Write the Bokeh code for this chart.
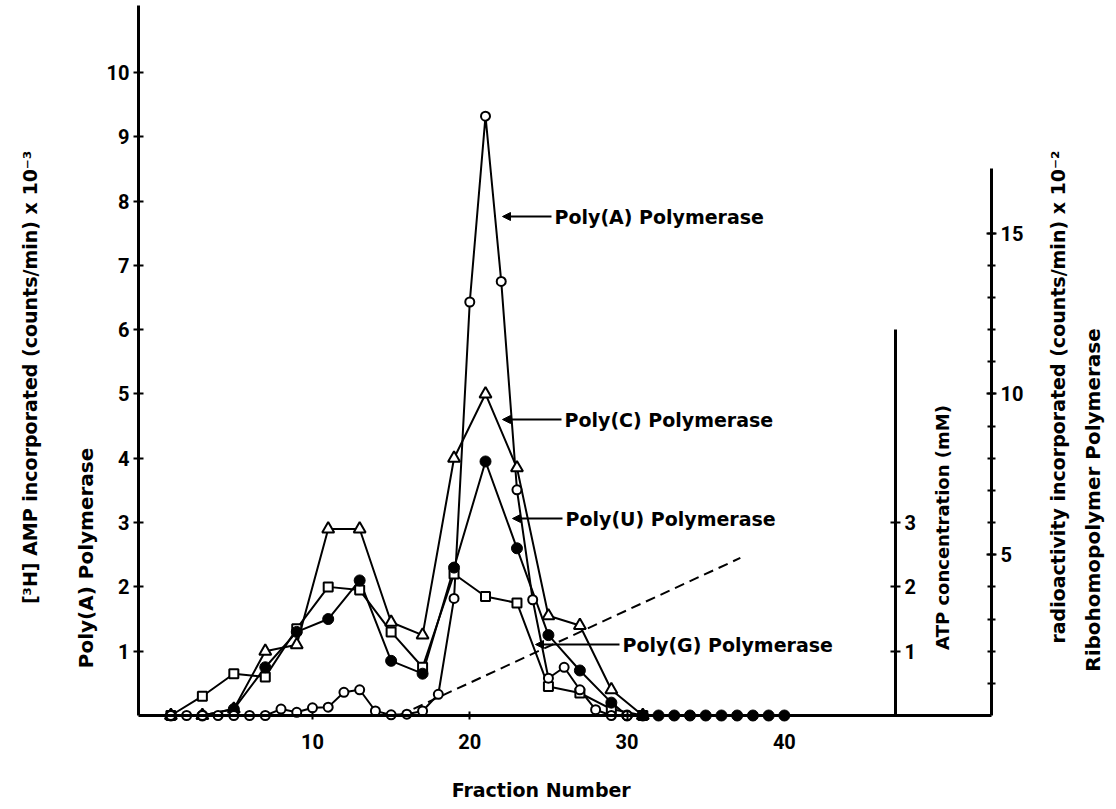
import math
from bokeh.plotting import figure
from bokeh.models import Range1d, LinearAxis, FixedTicker, Label, Arrow, NormalHead
from bokeh.embed import file_html
from bokeh.resources import INLINE

# ---------------- data ----------------
# Poly(A) polymerase: [3H]AMP incorporated, counts/min x 10^-3 (left axis)
polyA_frac = list(range(1, 31))
polyA_val = [0, 0, 0, 0, 0, 0, 0, 0.10, 0.05, 0.12, 0.13, 0.36, 0.40, 0.07, 0.01,
             0.02, 0.07, 0.33, 1.82, 6.43, 9.32, 6.75, 3.51, 1.80, 0.58, 0.75, 0.40,
             0.09, 0.0, 0.0]

# Ribohomopolymer polymerases: radioactivity, counts/min x 10^-2 (right axis)
polyC_frac = [1, 3, 5, 7, 9, 11, 13, 15, 17, 19, 21, 23, 25, 27, 29, 31]
polyC_val = [0, 0, 0.2, 2.0, 2.2, 5.8, 5.8, 2.9, 2.5, 8.0, 10.0, 7.7, 3.1, 2.8, 0.8, 0]

polyU_frac = [1, 3, 5, 7, 9, 11, 13, 15, 17, 19, 21, 23, 25, 27, 29,
              30, 31, 32, 33, 34, 35, 36, 37, 38, 39, 40]
polyU_val = [0, 0, 0.2, 1.5, 2.6, 3.0, 4.2, 1.7, 1.3, 4.6, 7.9, 5.2, 2.5, 1.4, 0.4,
             0, 0, 0, 0, 0, 0, 0, 0, 0, 0, 0]

polyG_frac = [1, 3, 5, 7, 9, 11, 13, 15, 17, 19, 21, 23, 25, 27, 29, 31]
polyG_val = [0, 0.6, 1.3, 1.2, 2.7, 4.0, 3.9, 2.6, 1.5, 4.4, 3.7, 3.5, 0.9, 0.7, 0.2, 0]

# ATP gradient (mM)
atp_frac = [15.5, 37.2]
atp_mM = [0, 2.45]

left_ticks = [1, 2, 3, 4, 5, 6, 7, 8, 9, 10]
bottom_ticks = [10, 20, 30, 40]
right_major = [5, 10, 15]
right_minor = list(range(1, 16))
atp_ticks = [1, 2, 3]

# axis extents (data units)
X_LEFT, X_RIGHT, X_ATP = -1.06, 53.17, 47.06
Y_TOP = 11.04
RIGHT_TOP, ATP_TOP = 17, 6

# ---------------- layout: the frame covers the whole canvas ----------------
W, H = 1106, 800
SX, SY = 15.73, 64.31          # px per data unit


def fx(px):   # page pixel -> data x (annotation placement only)
    return X_LEFT + (px - 146) / SX


def vy(py):   # page pixel -> data y (annotation placement only)
    return (723 - py) / SY


p = figure(frame_width=W, frame_height=H, min_border=0,
           x_range=Range1d(fx(8), fx(8 + W)), y_range=Range1d(vy(8 + H), vy(8)),
           x_axis_location=None, y_axis_location=None,
           output_backend="svg", toolbar_location=None)
p.outline_line_color = None
p.grid.visible = False
p.extra_y_ranges = {"right": Range1d(2 * vy(8 + H), 2 * vy(8))}

TXT_FONT = "DejaVu Sans"


def style_axis(ax, tick_in=5, tick_out=5, standoff=4):
    ax.axis_line_width = 3
    ax.axis_line_color = "black"
    ax.major_tick_in = tick_in
    ax.major_tick_out = tick_out
    ax.major_tick_line_width = 2
    ax.major_tick_line_color = "black"
    ax.major_label_text_font = "Roboto"
    ax.major_label_text_font_style = "bold"
    ax.major_label_text_font_size = "20px"
    ax.major_label_text_color = "black"
    ax.major_label_standoff = standoff
    ax.minor_tick_line_color = None


left = LinearAxis(fixed_location=X_LEFT, bounds=(0, Y_TOP),
                  ticker=FixedTicker(ticks=left_ticks, minor_ticks=[]))
style_axis(left)
p.add_layout(left, "left")

bottom = LinearAxis(fixed_location=0, bounds=(X_LEFT, X_RIGHT),
                    ticker=FixedTicker(ticks=bottom_ticks, minor_ticks=[]))
style_axis(bottom, 4, 4, 14)
p.add_layout(bottom, "below")

right = LinearAxis(fixed_location=X_RIGHT, y_range_name="right", bounds=(0, RIGHT_TOP),
                   ticker=FixedTicker(ticks=right_major, minor_ticks=right_minor))
style_axis(right)
right.minor_tick_in = 4
right.minor_tick_out = 4
right.minor_tick_line_width = 2
right.minor_tick_line_color = "black"
p.add_layout(right, "right")

atp_axis = LinearAxis(fixed_location=X_ATP, bounds=(0, ATP_TOP),
                      ticker=FixedTicker(ticks=atp_ticks, minor_ticks=[]))
style_axis(atp_axis)
p.add_layout(atp_axis, "right")

# ---------------- series ----------------
p.line(atp_frac, atp_mM, line_color="black", line_width=2, line_dash="10 6")

p.line(polyG_frac, polyG_val, y_range_name="right", line_color="black", line_width=2)
p.line(polyC_frac, polyC_val, y_range_name="right", line_color="black", line_width=2)
p.line(polyU_frac, polyU_val, y_range_name="right", line_color="black", line_width=2)
p.line(polyA_frac, polyA_val, line_color="black", line_width=2)

p.scatter(polyG_frac, polyG_val, y_range_name="right", marker="square", size=9,
          fill_color="white", line_color="black", line_width=2)
p.scatter(polyC_frac, polyC_val, y_range_name="right", marker="triangle", size=12,
          fill_color="white", line_color="black", line_width=2)
p.scatter(polyU_frac, polyU_val, y_range_name="right", marker="circle", size=11,
          fill_color="black", line_color="black", line_width=1)
p.scatter(polyA_frac, polyA_val, marker="circle", size=9,
          fill_color="white", line_color="black", line_width=2)

# ---------------- arrows + series labels ----------------
series_labels = [
    ("Poly(A)  Polymerase", 510, 562, 224),
    ("Poly(C)  Polymerase", 510, 572, 427),
    ("Poly(U)  Polymerase", 520, 573, 526),
    ("Poly(G)  Polymerase", 543, 630, 652),
]
for txt, tip, tx, ty in series_labels:
    p.add_layout(Arrow(x_start=fx(tx - 3), y_start=vy(ty), x_end=fx(tip), y_end=vy(ty),
                       line_width=2, line_color="black",
                       end=NormalHead(size=8, fill_color="black", line_color="black")))
    p.add_layout(Label(x=fx(tx), y=vy(ty), text=txt, text_align="left",
                       text_baseline="middle", text_font=TXT_FONT,
                       text_font_style="bold", text_font_size="19px", text_color="black"))

# ---------------- axis titles ----------------
titles = [
    ("[³H]  AMP  incorporated  (counts/min) x 10⁻³", 37, 375, True, "19px"),
    ("Poly(A)  Polymerase", 93, 562, True, "20px"),
    ("ATP concentration (mM)", 950, 535, True, "18px"),
    ("radioactivity  incorporated  (counts/min) x 10⁻²", 1065, 398, True, "19px"),
    ("Ribohomopolymer  Polymerase", 1100, 504, True, "20px"),
    ("Fraction  Number", 552, 797, False, "19px"),
]
for txt, px, py, rot, fs in titles:
    p.add_layout(Label(x=fx(px), y=vy(py), text=txt, text_align="center",
                       text_baseline="middle", angle=math.pi / 2 if rot else 0,
                       text_font=TXT_FONT, text_font_style="bold",
                       text_font_size=fs, text_color="black"))

open("out.html", "w").write(file_html(p, INLINE))
